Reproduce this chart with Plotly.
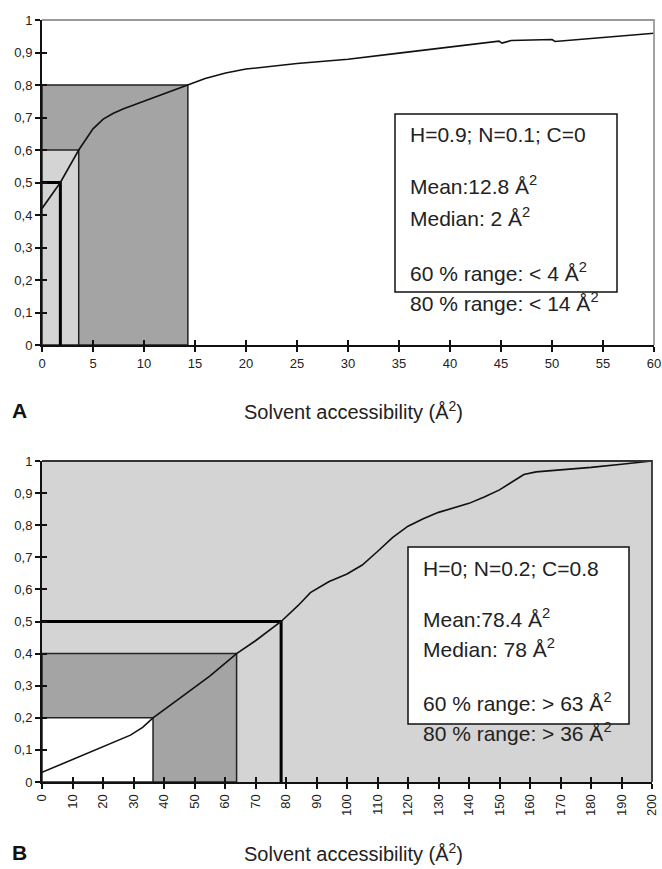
import plotly.graph_objects as go

W, H = 662, 869

# ---------------- data ----------------
# Panel A: cumulative fraction vs solvent accessibility (H=0.9; N=0.1; C=0)
a_x = [0, 1.8, 3.6, 5, 6, 7, 8, 10, 12, 14.3, 16, 18, 20, 25, 30, 35, 40, 44.8, 45.1, 46, 50, 50.3, 55, 60]
a_y = [0.42, 0.5, 0.6, 0.665, 0.695, 0.713, 0.727, 0.75, 0.775, 0.8, 0.82, 0.837, 0.849, 0.866, 0.879, 0.898, 0.917, 0.935, 0.929, 0.937, 0.94, 0.934, 0.946, 0.959]
a_thresholds = [1.8, 3.6, 14.3]      # median, 60 %, 80 %
a_levels = [0.5, 0.6, 0.8]
a_xticks = list(range(0, 61, 5))

# Panel B: cumulative fraction vs solvent accessibility (H=0; N=0.2; C=0.8)
b_x = [0, 10, 20, 29, 33, 36.4, 45, 55, 63.8, 70, 78.4, 84, 88, 94, 100, 105, 110, 115, 120, 125, 130, 140, 145, 150, 155, 158, 162, 170, 180, 190, 200]
b_y = [0.03, 0.07, 0.11, 0.146, 0.17, 0.2, 0.26, 0.33, 0.4, 0.44, 0.5, 0.55, 0.59, 0.624, 0.648, 0.676, 0.718, 0.762, 0.797, 0.82, 0.84, 0.868, 0.888, 0.91, 0.94, 0.958, 0.966, 0.972, 0.98, 0.99, 1.0]
b_thresholds = [36.4, 63.8, 78.4]    # 80 %, 60 %, median
b_levels = [0.2, 0.4, 0.5]
b_xticks = list(range(0, 201, 10))

yticks = [i / 10 for i in range(11)]

a_text = ["H=0.9; N=0.1; C=0", "Mean:12.8 Å<sup>2</sup>", "Median: 2 Å<sup>2</sup>",
          "60 % range: < 4 Å<sup>2</sup>", "80 % range: < 14 Å<sup>2</sup>"]
b_text = ["H=0; N=0.2; C=0.8", "Mean:78.4 Å<sup>2</sup>", "Median: 78 Å<sup>2</sup>",
          "60 % range: > 63 Å<sup>2</sup>", "80 % range: > 36 Å<sup>2</sup>"]
axis_title = "Solvent accessibility (Å<sup>2</sup>)"
panel_labels = ["A", "B"]

# ---------------- styling ----------------
FONT = "Liberation Sans, Arial, Helvetica, sans-serif"
DARK = "#a4a4a4"
LIGHT = "#d4d4d4"


def pxx(x):
    return x / W


def pyy(y):
    return 1 - y / H


domA_x = [pxx(42), pxx(654)]
domA_y = [pyy(345), pyy(20)]
domB_x = [pxx(42), pxx(652)]
domB_y = [pyy(782), pyy(461)]

fig = go.Figure()

fig.add_trace(go.Scatter(x=a_x, y=a_y, mode="lines", line=dict(color="#111", width=1.6),
                         xaxis="x", yaxis="y", showlegend=False, hoverinfo="skip"))
fig.add_trace(go.Scatter(x=b_x, y=b_y, mode="lines", line=dict(color="#111", width=1.6),
                         xaxis="x2", yaxis="y2", showlegend=False, hoverinfo="skip"))
# invisible traces for overlay (cross tick) axes
for xa, ya in [("x3", "y3"), ("x4", "y4")]:
    fig.add_trace(go.Scatter(x=[None], y=[None], xaxis=xa, yaxis=ya, showlegend=False, hoverinfo="skip"))

shapes = []

# ---- Panel A regions ----
a_med, a_60, a_80 = a_thresholds
l_med, l_60, l_80 = a_levels
shapes.append(dict(type="rect", xref="x", yref="y", x0=0, x1=a_80, y0=0, y1=l_80,
                   fillcolor=DARK, line=dict(color="#222", width=1.5), layer="below"))
shapes.append(dict(type="rect", xref="x", yref="y", x0=0, x1=a_60, y0=0, y1=l_60,
                   fillcolor=LIGHT, line=dict(color="#222", width=1.5), layer="below"))
shapes.append(dict(type="path", xref="x", yref="y",
                   path=f"M 0 {l_med} L {a_med} {l_med} L {a_med} 0",
                   line=dict(color="#000", width=3), layer="below"))
# frame A (top/right)
shapes.append(dict(type="path", xref="x domain", yref="y domain", path="M 0 1 L 1 1 L 1 0",
                   line=dict(color="#9a9a9a", width=1.8)))

# ---- Panel B regions ----
b_80, b_60, b_med = b_thresholds
m_80, m_60, m_med = b_levels
shapes.append(dict(type="rect", xref="x2 domain", yref="y2 domain", x0=0, x1=1, y0=0, y1=1,
                   fillcolor=LIGHT, line=dict(width=0), layer="below"))
shapes.append(dict(type="rect", xref="x2", yref="y2", x0=0, x1=b_60, y0=0, y1=m_60,
                   fillcolor=DARK, line=dict(color="#222", width=1.5), layer="below"))
shapes.append(dict(type="rect", xref="x2", yref="y2", x0=0, x1=b_80, y0=0, y1=m_80,
                   fillcolor="white", line=dict(color="#222", width=1.5), layer="below"))
shapes.append(dict(type="path", xref="x2", yref="y2",
                   path=f"M 0 {m_med} L {b_med} {m_med} L {b_med} 0",
                   line=dict(color="#000", width=3), layer="below"))
shapes.append(dict(type="path", xref="x2 domain", yref="y2 domain", path="M 0 1 L 1 1 L 1 0",
                   line=dict(color="#333", width=1.8)))

# ---- text boxes ----
shapes.append(dict(type="rect", xref="paper", yref="paper", x0=pxx(395), x1=pxx(617),
                   y0=pyy(292), y1=pyy(114), fillcolor="white", line=dict(color="#111", width=1.5)))
shapes.append(dict(type="rect", xref="paper", yref="paper", x0=pxx(408), x1=pxx(629),
                   y0=pyy(724), y1=pyy(547), fillcolor="white", line=dict(color="#111", width=1.5)))

annotations = []
a_rows = [135, 185, 217, 272, 302]
b_rows = [568, 618, 648, 702, 732]
for txt, yy in zip(a_text, a_rows):
    annotations.append(dict(text=txt, xref="paper", yref="paper", x=pxx(408), y=pyy(yy),
                            xanchor="left", yanchor="middle", showarrow=False,
                            font=dict(family=FONT, size=21, color="#222")))
for txt, yy in zip(b_text, b_rows):
    annotations.append(dict(text=txt, xref="paper", yref="paper", x=pxx(421), y=pyy(yy),
                            xanchor="left", yanchor="middle", showarrow=False,
                            font=dict(family=FONT, size=21, color="#222")))

for lab, title_y in zip(panel_labels, [410, 852]):
    annotations.append(dict(text=f"<b>{lab}</b>", xref="paper", yref="paper", x=pxx(10), y=pyy(title_y),
                            xanchor="left", yanchor="middle", showarrow=False,
                            font=dict(family=FONT, size=21, color="#111")))
    annotations.append(dict(text=axis_title, xref="paper", yref="paper", x=pxx(242), y=pyy(title_y),
                            xanchor="left", yanchor="middle", showarrow=False,
                            font=dict(family=FONT, size=20, color="#222")))

tickfont = dict(family=FONT, size=13, color="#222")

base_x = dict(showgrid=False, zeroline=False, showline=True, linecolor="#111", linewidth=2,
              ticks="outside", ticklen=5, tickwidth=1.5, tickcolor="#111", tickfont=tickfont,
              automargin=False)
base_y = dict(showgrid=False, zeroline=False, showline=True, linecolor="#111", linewidth=2,
              ticks="outside", ticklen=5, tickwidth=1.5, tickcolor="#111", tickfont=tickfont,
              range=[0, 1], tickvals=yticks, ticktext=[f"{v:g}".replace(".", ",") for v in yticks],
              automargin=False)
inner = dict(showgrid=False, zeroline=False, showline=False, ticks="inside", ticklen=5,
             tickwidth=1.5, tickcolor="#111", showticklabels=False, automargin=False)

fig.update_layout(
    width=W, height=H, margin=dict(l=0, r=0, t=0, b=0),
    paper_bgcolor="white", plot_bgcolor="rgba(0,0,0,0)",
    showlegend=False,
    xaxis=dict(base_x, domain=domA_x, range=[0, 60], tickvals=a_xticks, anchor="y"),
    yaxis=dict(base_y, domain=domA_y, anchor="x"),
    xaxis2=dict(base_x, domain=domB_x, range=[0, 200], tickvals=b_xticks, tickangle=-90, anchor="y2"),
    yaxis2=dict(base_y, domain=domB_y, anchor="x2"),
    xaxis3=dict(inner, domain=domA_x, range=[0, 60], tickvals=a_xticks, anchor="y3"),
    yaxis3=dict(inner, domain=domA_y, range=[0, 1], tickvals=yticks, anchor="x3"),
    xaxis4=dict(inner, domain=domB_x, range=[0, 200], tickvals=b_xticks, anchor="y4"),
    yaxis4=dict(inner, domain=domB_y, range=[0, 1], tickvals=yticks, anchor="x4"),
    shapes=shapes,
    annotations=annotations,
    font=dict(family=FONT),
)

fig.write_html("out.html")
